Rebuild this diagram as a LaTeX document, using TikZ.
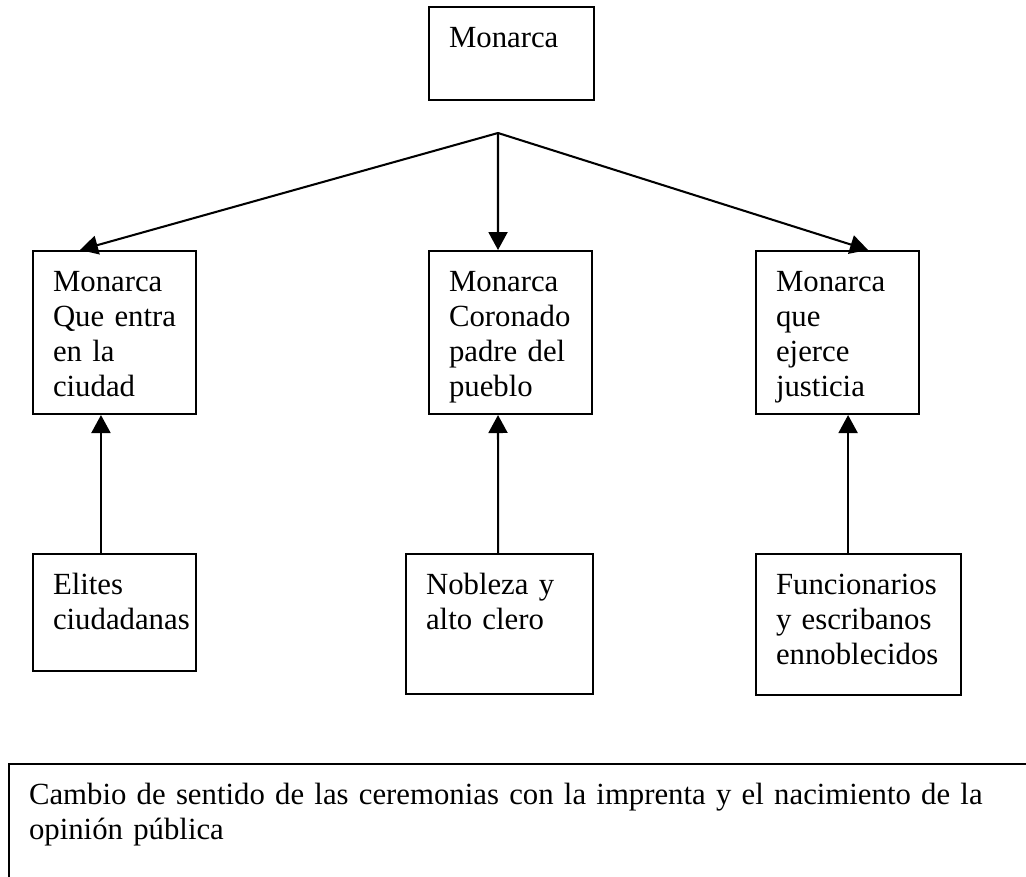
\documentclass[tikz,border=0pt]{standalone}
\usepackage{fontspec}
\setmainfont{Liberation Serif}
\usetikzlibrary{arrows.meta}
\tikzset{ % boxes and arrows
box/.style={draw,line width=0.8pt,anchor=north west,align=left,inner xsep=7.8pt,inner ysep=0pt,text height=15.6pt,font=\fontsize{12}{13.65}\selectfont},
arr/.style={line width=0.8pt,-{Triangle[length=7pt,width=7.4pt]}},
}

\begin{document}
\begin{tikzpicture}[x=0.39pt,y=-0.39pt]
\useasboundingbox (0,0) rectangle (1026,876);
            \node [box,text width=48.75pt,text depth=20.67pt] (mon) at (428,6) {Monarca};
            \coordinate (fork) at (498,133);
            \node [box,text width=48pt,text depth=47.97pt] (entra) at (32,250) {Monarca\\Que entra\\en la\\ciudad};
            \node [box,text width=48pt,text depth=47.97pt] (coronado) at (428,250) {Monarca\\Coronado\\padre del\\pueblo};
            \node [box,text width=48pt,text depth=47.97pt] (justicia) at (755,250) {Monarca\\que\\ejerce\\justicia};
            \node [box,text width=48pt,text depth=30.03pt] (elites) at (32,553) {Elites\\ciudadanas};
            \node [box,text width=57.33pt,text depth=39pt] (nobleza) at (405,553) {Nobleza y\\alto clero};
            \node [box,text width=64.35pt,text depth=39.4pt] (funcion) at (755,553) {Funcionarios\\y escribanos\\ennoblecidos};
            \node [box,text width=390pt,text depth=36.3pt] (cambio) at (8,763) {Cambio de sentido de las ceremonias con la imprenta y el nacimiento de la\\opinión pública};
            % arrows from the fork down to the three figures
            \draw [arr] (fork) -- ([xshift=18.7pt]entra.north west);
            \draw [arr] (fork) -- ([xshift=27.3pt]coronado.north west);
            \draw [arr] (fork) -- ([xshift=44.1pt]justicia.north west);
            % arrows up from the groups
            \draw [arr] ([xshift=26.9pt]elites.north west) -- ([xshift=26.9pt]entra.south west);
            \draw [arr] ([xshift=36.3pt]nobleza.north west) -- ([xshift=27.3pt]coronado.south west);
            \draw [arr] ([xshift=36.3pt]funcion.north west) -- ([xshift=36.3pt]justicia.south west);
        \end{tikzpicture}
\end{document}
